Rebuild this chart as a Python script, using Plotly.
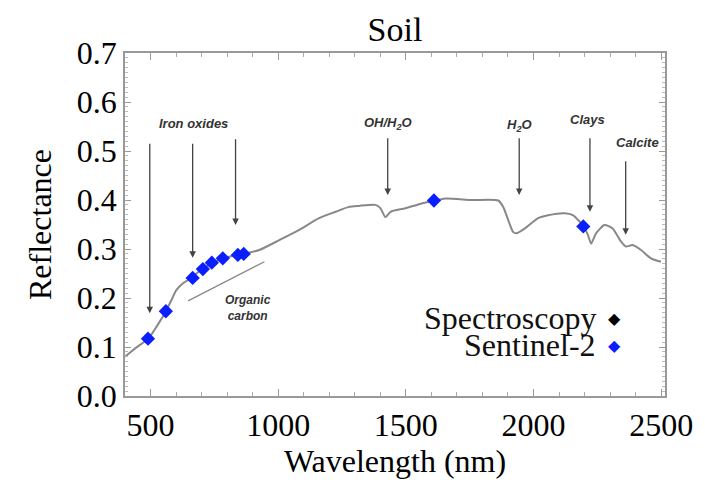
import plotly.graph_objects as go

# Soil reflectance spectrum
spec_wl = [400, 439, 491, 523, 560, 582, 601, 627, 660, 701, 744, 783, 842, 872, 926,
           1004, 1082, 1160, 1225, 1277, 1316, 1381, 1401, 1420, 1440, 1498, 1563, 1612,
           1654, 1758, 1862, 1881, 1901, 1920, 1933, 1966, 2018, 2057, 2122, 2154, 2197,
           2213, 2226, 2245, 2278, 2310, 2343, 2362, 2388, 2421, 2460, 2499]
spec_refl = [0.080, 0.097, 0.117, 0.141, 0.173, 0.196, 0.216, 0.230, 0.241, 0.259, 0.271,
             0.281, 0.288, 0.291, 0.298, 0.318, 0.339, 0.363, 0.376, 0.386, 0.388, 0.390,
             0.383, 0.365, 0.376, 0.383, 0.393, 0.398, 0.403, 0.400, 0.399, 0.386, 0.359,
             0.335, 0.332, 0.342, 0.363, 0.369, 0.373, 0.369, 0.346, 0.329, 0.311, 0.332,
             0.349, 0.342, 0.315, 0.305, 0.308, 0.298, 0.281, 0.274]

# Sentinel-2 bands
s2_wl = [490, 560, 665, 705, 740, 783, 842, 865, 1610, 2195]
s2_refl = [0.117, 0.173, 0.241, 0.259, 0.272, 0.281, 0.288, 0.290, 0.399, 0.346]

# Absorption feature labels: (text, x, y)
feature_labels = [
    ("Iron oxides", 669, 0.557),
    ("OH/H<sub>2</sub>O", 1429, 0.557),
    ("H<sub>2</sub>O", 1944, 0.553),
    ("Clays", 2212, 0.565),
    ("Calcite", 2408, 0.518),
]
# Arrows: (x, y_top, y_tip)
feature_arrows = [
    (497, 0.518, 0.169),
    (665, 0.518, 0.282),
    (833, 0.527, 0.349),
    (1429, 0.529, 0.410),
    (1944, 0.529, 0.410),
    (2221, 0.529, 0.376),
    (2361, 0.482, 0.329),
]

x_ticks = [500, 1000, 1500, 2000, 2500]
y_ticks = [0.0, 0.1, 0.2, 0.3, 0.4, 0.5, 0.6, 0.7]

SERIF = "Liberation Serif, Times New Roman, serif"
SANS = "Liberation Sans, Arial, sans-serif"

fig = go.Figure()
fig.add_trace(go.Scatter(x=spec_wl, y=spec_refl, mode="lines",
                         line=dict(color="#888888", width=2, shape="spline", smoothing=0.6),
                         showlegend=False, hoverinfo="skip"))
fig.add_trace(go.Scatter(x=s2_wl, y=s2_refl, mode="markers",
                         marker=dict(symbol="diamond", size=11, color="#0a1eff"),
                         showlegend=False))

anns = []
for txt, x, y in feature_labels:
    anns.append(dict(x=x, y=y, xref="x", yref="y", text="<b><i>" + txt + "</i></b>",
                     showarrow=False, font=dict(family=SANS, size=13, color="#333333")))
for x, y0, y1 in feature_arrows:
    anns.append(dict(x=x, y=y1, ax=x, ay=y0, xref="x", yref="y", axref="x", ayref="y",
                     text="", showarrow=True, arrowhead=2, arrowsize=1, arrowwidth=1.3,
                     arrowcolor="#444444"))
anns.append(dict(x=883, y=0.179, xref="x", yref="y",
                 text="<b><i>Organic<br>carbon</i></b>", showarrow=False,
                 font=dict(family=SANS, size=12, color="#333333")))
# legend-like labels
anns.append(dict(x=2252, y=0.159, xref="x", yref="y", xanchor="right", yanchor="middle",
                 text="Spectroscopy", showarrow=False,
                 font=dict(family=SERIF, size=32, color="#111111")))
anns.append(dict(x=2316, y=0.159, xref="x", yref="y", xanchor="center", yanchor="middle",
                 text="◆", showarrow=False,
                 font=dict(family="DejaVu Sans", size=16, color="black")))
anns.append(dict(x=2252, y=0.104, xref="x", yref="y", xanchor="right", yanchor="middle",
                 text="Sentinel-2", showarrow=False,
                 font=dict(family=SERIF, size=32, color="#111111")))
anns.append(dict(x=2316, y=0.104, xref="x", yref="y", xanchor="center", yanchor="middle",
                 text="◆", showarrow=False,
                 font=dict(family="DejaVu Sans", size=16, color="#0a1eff")))

fig.update_layout(
    width=697, height=478,
    margin=dict(l=117, r=38, t=45, b=90),
    paper_bgcolor="white", plot_bgcolor="white",
    title=dict(text="Soil", x=0.5, xref="paper", y=0.956, yanchor="middle",
               font=dict(family=SERIF, size=34, color="black")),
    annotations=anns,
    shapes=[dict(type="line", xref="x", yref="y", x0=647, y0=0.194, x1=946, y1=0.274,
                 line=dict(color="#888888", width=1.3))],
    font=dict(family=SERIF, color="black"),
)
fig.update_xaxes(range=[400, 2515], tickvals=x_ticks, ticktext=[str(v) for v in x_ticks],
                 showgrid=False, zeroline=False, showline=True, linecolor="#999999",
                 linewidth=1.5, mirror="ticks", ticks="inside", ticklen=7, tickcolor="#999999",
                 minor=dict(dtick=100, tick0=400, ticks="inside", ticklen=4, tickcolor="#aaaaaa"),
                 tickfont=dict(family=SERIF, size=32, color="black"),
                 title=dict(text="Wavelength (nm)", standoff=5,
                            font=dict(family=SERIF, size=32, color="black")))
fig.update_yaxes(range=[0, 0.7], tickvals=y_ticks, ticktext=["%.1f" % v for v in y_ticks],
                 showgrid=False, zeroline=False, showline=True, linecolor="#999999",
                 linewidth=1.5, mirror="ticks", ticks="inside", ticklen=6, tickcolor="#999999",
                 minor=dict(dtick=0.01, ticks="inside", ticklen=3, tickcolor="#bbbbbb"),
                 tickfont=dict(family=SERIF, size=32, color="black"),
                 title=dict(text="Reflectance", standoff=16,
                            font=dict(family=SERIF, size=32, color="black")))

fig.write_html("out.html")
